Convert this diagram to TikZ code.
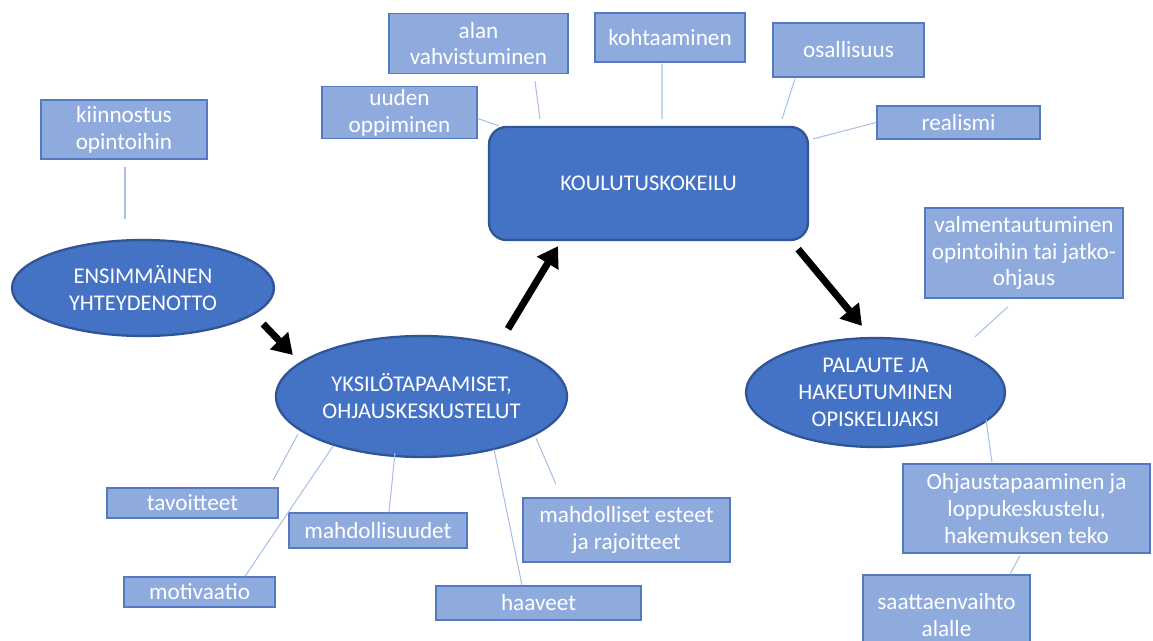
\documentclass[tikz,border=0pt]{standalone}
\usepackage{fontspec}
\setmainfont{Carlito}
\usepackage{tikz}
\usetikzlibrary{shapes.geometric,arrows.meta}

\definecolor{stepblue}{HTML}{4472C4}
\definecolor{stepedge}{HTML}{2F5597}
\definecolor{notefill}{HTML}{8FAADC}
\definecolor{noteedge}{HTML}{5479C2}
\definecolor{linkblue}{HTML}{A9C0E6}
\newlength\pxu \setlength\pxu{0.02cm}

\begin{document}
\begin{tikzpicture}[x=0.02cm, y=-0.02cm,
    phase/.style={ellipse, draw=stepedge, line width=1.3pt, fill=stepblue, text=white,
      align=center, inner sep=0pt, font=\fontsize{12.8}{15.3}\selectfont},
    note/.style={rectangle, draw=noteedge, line width=0.8pt, fill=notefill, text=white,
      align=center, inner sep=0pt, font=\fontsize{13.2}{15.2}\selectfont},
    link/.style={draw=linkblue, line width=0.6pt},
    flow/.style={line width=4pt, -{Triangle[length=0.4cm,width=0.48cm]}}]
        \clip (0,0) rectangle (1153,641);                                           %

        % main steps
        \node [phase, minimum width=262\pxu, minimum height=96\pxu]  (ens) at (143,288)     {ENSIMMÄINEN\\YHTEYDENOTTO};
        \node [phase, minimum width=291\pxu, minimum height=121\pxu] (yks) at (421.5,396.5) {YKSILÖTAPAAMISET,\\OHJAUSKESKUSTELUT};
        \node [phase, rectangle, rounded corners=0.35cm,
               minimum width=319\pxu, minimum height=113\pxu]        (koul) at (648.5,183.5) {KOULUTUSKOKEILU};
        \node [phase, minimum width=259\pxu, minimum height=109\pxu] (pal) at (875.5,392.5) {PALAUTE JA\\HAKEUTUMINEN\\OPISKELIJAKSI};

        % notes round the steps
        \node [note, minimum width=166\pxu, minimum height=59\pxu] (kiin) at (124,129.5)   {kiinnostus\\opintoihin};
        \node [note, minimum width=155\pxu, minimum height=52\pxu] (uud)  at (399.5,112.5) {uuden\\oppiminen};
        \node [note, minimum width=179\pxu, minimum height=60\pxu] (alan) at (478.5,43.5)  {alan\\vahvistuminen};
        \node [note, minimum width=150\pxu, minimum height=49\pxu] (koht) at (670,37.5)    {kohtaaminen};
        \node [note, minimum width=151\pxu, minimum height=54\pxu] (osal) at (848.5,50)    {osallisuus};
        \node [note, minimum width=163\pxu, minimum height=33\pxu] (real) at (958.5,122.5) {realismi};
        \node [note, minimum width=198\pxu, minimum height=90\pxu] (valm) at (1024,253)    {valmentautuminen\\opintoihin tai jatko-\\ohjaus};
        \node [note, minimum width=247\pxu, minimum height=89\pxu] (ohj)  at (1026.5,508.5) {Ohjaustapaaminen ja\\loppukeskustelu,\\hakemuksen teko};
        \node [note, minimum width=167\pxu, minimum height=80\pxu] (saat) at (946.5,615)   {saattaenvaihto\\alalle};
        \node [note, minimum width=171\pxu, minimum height=30\pxu] (tav)  at (192.5,503)   {tavoitteet};
        \node [note, minimum width=178\pxu, minimum height=35\pxu] (mahd) at (378,530.5)   {mahdollisuudet};
        \node [note, minimum width=151\pxu, minimum height=30\pxu] (mot)  at (199.5,592)   {motivaatio};
        \node [note, minimum width=205\pxu, minimum height=34\pxu] (haav) at (538.5,603)   {haaveet};
        \node [note, minimum width=207\pxu, minimum height=64\pxu] (est)  at (626.5,530)   {mahdolliset esteet\\ja rajoitteet};

        % thin links
        \draw [link] ([shift={(1,7)}]kiin.south)    -- ([shift={(-18,-20)}]ens.north);   %
        \draw [link] ([shift={(0,6)}]uud.east)      -- ([shift={(11,0)}]koul.north west);%
        \draw [link] ([shift={(56.5,7)}]alan.south) -- ([shift={(-108.5,-7)}]koul.north);%
        \draw [link] ([shift={(-8,1)}]koht.south)   -- ([shift={(13.5,-7)}]koul.north);  %
        \draw [link] ([shift={(-53.5,1)}]osal.south) -- ([shift={(-27,-7)}]koul.north east);%
        \draw [link] (real.west)                    -- ([shift={(4,13)}]koul.north east);%
        \draw [link] ([shift={(-16,8)}]valm.south)  -- ([shift={(99.5,0)}]pal.north);    %
        \draw [link] ([shift={(-20,27.5)}]pal.east) -- ([shift={(-34.5,-1)}]ohj.north);  %
        \draw [link] ([shift={(-6.5,2)}]ohj.south)  -- ([shift={(63.5,0)}]saat.north);   %
        \draw [link] ([shift={(-123.5,-24)}]yks.south) -- ([shift={(80.5,-7)}]tav.north);%
        \draw [link] ([shift={(-88.5,-12)}]yks.south)  -- ([shift={(45.5,0)}]mot.north); %
        \draw [link] ([shift={(-26.5,-5)}]yks.south)   -- ([shift={(11,0)}]mahd.north);  %
        \draw [link] ([shift={(72.5,-9)}]yks.south)    -- ([shift={(-16.5,0)}]haav.north);%
        \draw [link] ([shift={(114.5,-20)}]yks.south)  -- ([shift={(-70.5,-13)}]est.north);%

        % thick arrows
        \draw [flow] ([shift={(-12,36)}]ens.east)    -- ([shift={(18,-41.5)}]yks.west);  %
        \draw [flow] ([shift={(86.5,-6)}]yks.north)  -- ([shift={(-90.5,5)}]koul.south); %
        \draw [flow] ([shift={(-11,8)}]koul.south east) -- ([shift={(-13.5,-11)}]pal.north);%
\end{tikzpicture}
\end{document}
